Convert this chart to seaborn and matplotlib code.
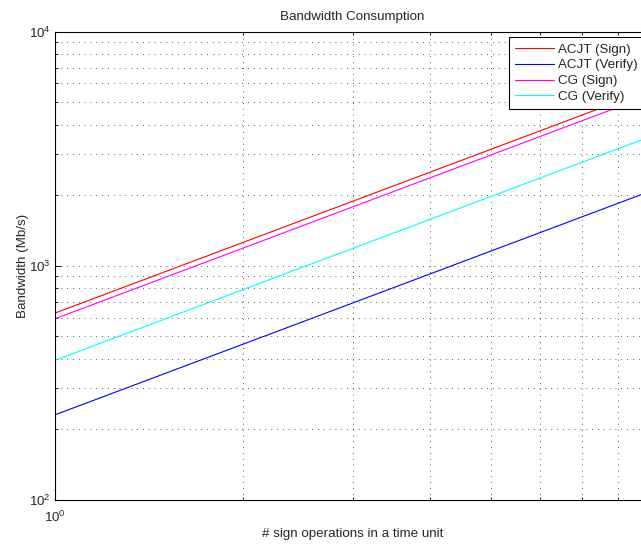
import numpy as np
import pandas as pd
import matplotlib
matplotlib.use("Agg")
import matplotlib.pyplot as plt
import seaborn as sns
from matplotlib.ticker import LogLocator, NullFormatter, LogFormatterSciNotation

# ---- data ----
ops = [1, 2, 3, 4, 5, 6, 7, 8, 9]
acjt_sign = [628, 1256, 1884, 2512, 3140, 3768, 4396, 5024, 5652]
acjt_verify = [231, 462, 693, 924, 1155, 1386, 1617, 1848, 2079]
cg_sign = [594, 1188, 1782, 2376, 2970, 3564, 4158, 4752, 5346]
cg_verify = [395, 790, 1185, 1580, 1975, 2370, 2765, 3160, 3555]
series_names = ["ACJT (Sign)", "ACJT (Verify)", "CG (Sign)", "CG (Verify)"]
colors = ["#ff0000", "#0000ff", "#ff00ff", "#00ffff"]

df = pd.concat([
    pd.DataFrame({"ops": ops, "bw": vals, "series": name})
    for name, vals in zip(series_names, [acjt_sign, acjt_verify, cg_sign, cg_verify])
], ignore_index=True)

sns.set_theme(style="white")
plt.rcParams["font.family"] = ["Liberation Sans", "DejaVu Sans"]
plt.rcParams["mathtext.fontset"] = "custom"
plt.rcParams["mathtext.rm"] = "Liberation Sans"
plt.rcParams["mathtext.it"] = "Liberation Sans:italic"
plt.rcParams["mathtext.bf"] = "Liberation Sans:bold"

FS = 9.6
fig = plt.figure(figsize=(6.41, 5.44), dpi=100)
ax = fig.add_axes([55 / 641, 44 / 544, 595 / 641, 468.5 / 544])

sns.lineplot(data=df, x="ops", y="bw", hue="series", hue_order=series_names,
             palette=colors, linewidth=0.8, errorbar=None, ax=ax)

ax.set_xscale("log")
ax.set_yscale("log")
ax.set_xlim(1, 9)
ax.set_ylim(100, 10000)

for a in (ax.xaxis, ax.yaxis):
    a.set_major_locator(LogLocator(base=10))
    a.set_minor_locator(LogLocator(base=10, subs=np.arange(2, 10)))
    a.set_major_formatter(LogFormatterSciNotation())
    a.set_minor_formatter(NullFormatter())

ax.grid(True, which="both", linestyle=(0, (1, 6)), linewidth=0.6, color="0.15")
for s in ax.spines.values():
    s.set_color("black")
    s.set_linewidth(0.8)
ax.tick_params(which="both", direction="in", top=True, right=True,
               bottom=True, left=True, color="black", labelsize=FS)
ax.tick_params(axis="y", which="both", pad=3)
ax.tick_params(axis="x", which="both", pad=7)
ax.tick_params(which="major", length=4, width=0.6)
ax.tick_params(which="minor", length=2.5, width=0.6)

ax.set_title("Bandwidth Consumption", fontsize=FS, pad=8)
ax.set_xlabel("# sign operations in a time unit", fontsize=FS, labelpad=2)
ax.set_ylabel("Bandwidth (Mb/s)", fontsize=FS, labelpad=0)

leg = ax.legend(title=None, loc="upper right", bbox_to_anchor=(0.9899, 0.9876),
                borderaxespad=0, frameon=True, fancybox=False, framealpha=1,
                edgecolor="black", fontsize=FS, handlelength=2.9,
                handletextpad=0.35, labelspacing=0.26, borderpad=0.45)
leg.get_frame().set_linewidth(0.8)

fig.savefig("out.png", dpi=100)
